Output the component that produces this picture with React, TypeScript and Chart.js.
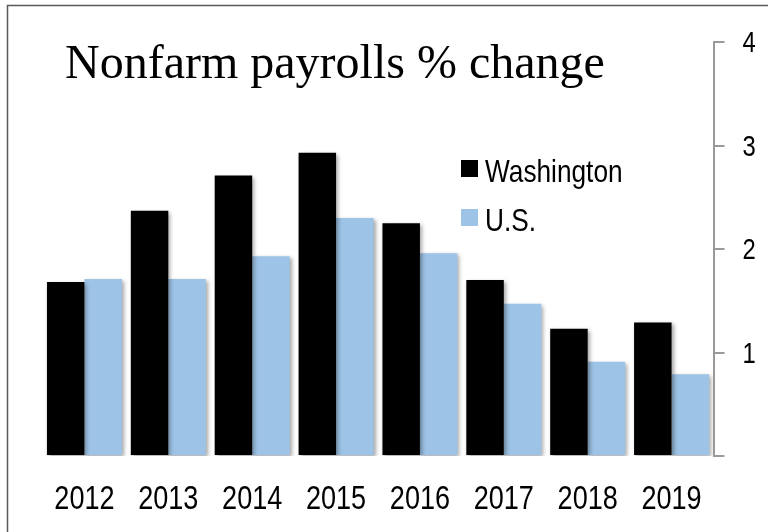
import React, { useEffect, useRef } from "react";
import { Chart, registerables } from "chart.js";

Chart.register(...registerables);

const categories = ["2012", "2013", "2014", "2015", "2016", "2017", "2018", "2019"];
const washington = [1.68, 2.37, 2.71, 2.93, 2.25, 1.70, 1.23, 1.29];
const us = [1.71, 1.71, 1.93, 2.30, 1.96, 1.47, 0.91, 0.79];
const seriesNames = ["Washington", "U.S."];
const seriesColors = ["#000000", "#9DC3E6"];
const titleText = "Nonfarm payrolls % change";
const yMin = 0;
const yMax = 4;

const SANS = '"Liberation Sans", Arial, sans-serif';
const NARROW_SCALE = 0.82;

function narrowText(ctx: any, text: string, x: number, y: number, size: number, align: string) {
  ctx.save();
  ctx.font = size + "px " + SANS;
  ctx.textAlign = align;
  ctx.textBaseline = "alphabetic";
  ctx.translate(x, y);
  ctx.scale(NARROW_SCALE, 1);
  ctx.fillText(text, 0, 0);
  ctx.restore();
}

const decorPlugin = {
  id: "decor",
  beforeDatasetsDraw(chart: any) {
    const ctx = chart.ctx;
    ctx.save();
    ctx.shadowColor = "rgba(0,0,0,0.35)";
    ctx.shadowBlur = 4;
    ctx.shadowOffsetX = 2;
    ctx.shadowOffsetY = 2;
  },
  afterDatasetsDraw(chart: any) {
    chart.ctx.restore();
  },
  afterDraw(chart: any) {
    const ctx = chart.ctx;
    const W = chart.width;
    const H = chart.height;
    ctx.save();
    // frame
    ctx.strokeStyle = "#5a5a5a";
    ctx.lineWidth = 1.5;
    ctx.beginPath();
    ctx.moveTo(7.5, H);
    ctx.lineTo(7.5, 5.5);
    ctx.lineTo(W, 5.5);
    ctx.stroke();
    // title
    ctx.fillStyle = "#000";
    ctx.font = '48px "Liberation Serif", "Times New Roman", serif';
    ctx.textBaseline = "alphabetic";
    ctx.textAlign = "left";
    ctx.fillText(titleText, 65, 78);
    // x tick labels
    const xs = chart.scales.x;
    const xBase = chart.chartArea.bottom + 53;
    xs.ticks.forEach((t: any, i: number) => {
      narrowText(ctx, xs.getLabelForValue(t.value), xs.getPixelForTick(i), xBase, 33, "center");
    });
    // y tick labels
    const ys = chart.scales.y;
    const yLeft = chart.chartArea.right + 29;
    ys.ticks.forEach((t: any) => {
      if (Number(t.value) === 0) return;
      narrowText(ctx, String(t.value), yLeft, ys.getPixelForValue(t.value) + 10, 29, "left");
    });
    // legend
    const ds = chart.data.datasets;
    for (let i = 0; i < ds.length; i++) {
      const top = 160 + i * 49;
      ctx.fillStyle = ds[i].backgroundColor;
      ctx.fillRect(461, top, 17, 17);
      ctx.fillStyle = "#000";
      narrowText(ctx, ds[i].label, 485, top + 22, 32, "left");
    }
    ctx.restore();
  },
};

export default function App() {
  const ref = useRef<HTMLCanvasElement | null>(null);
  useEffect(() => {
    document.body.style.margin = "0";
    const canvas = ref.current;
    if (!canvas) return;
    const chart = new Chart(canvas, {
      type: "bar",
      data: {
        labels: categories,
        datasets: [
          {
            label: seriesNames[0],
            data: washington,
            backgroundColor: seriesColors[0],
            borderWidth: 0,
            categoryPercentage: 0.894,
            barPercentage: 1.0,
          },
          {
            label: seriesNames[1],
            data: us,
            backgroundColor: seriesColors[1],
            borderWidth: 0,
            categoryPercentage: 0.894,
            barPercentage: 1.0,
          },
        ],
      },
      options: {
        responsive: false,
        animation: false,
        devicePixelRatio: 1,
        layout: { padding: { left: 42.5, top: 42, right: 0, bottom: 0 } },
        plugins: {
          legend: { display: false },
          tooltip: { enabled: false },
          title: { display: false },
        },
        scales: {
          x: {
            grid: { display: false },
            border: { display: false },
            ticks: {
              color: "rgba(0,0,0,0)",
              font: { family: SANS, size: 20 },
              maxRotation: 0,
              autoSkip: false,
            },
            afterFit: (s: any) => {
              s.height = 76;
            },
          },
          y: {
            position: "right",
            min: yMin,
            max: yMax,
            grid: {
              drawOnChartArea: false,
              drawTicks: true,
              tickLength: 11,
              color: "#9a9a9a",
              lineWidth: 2,
            },
            border: { display: true, color: "#9a9a9a", width: 2 },
            ticks: {
              stepSize: 1,
              color: "rgba(0,0,0,0)",
              font: { family: SANS, size: 20 },
            },
            afterFit: (s: any) => {
              s.width = 54.5;
            },
          },
        },
      },
      plugins: [decorPlugin],
    });
    return () => chart.destroy();
  }, []);
  return (
    <canvas
      ref={ref}
      width={768}
      height={532}
      style={{ display: "block", width: 768, height: 532, background: "#fff" }}
    />
  );
}
